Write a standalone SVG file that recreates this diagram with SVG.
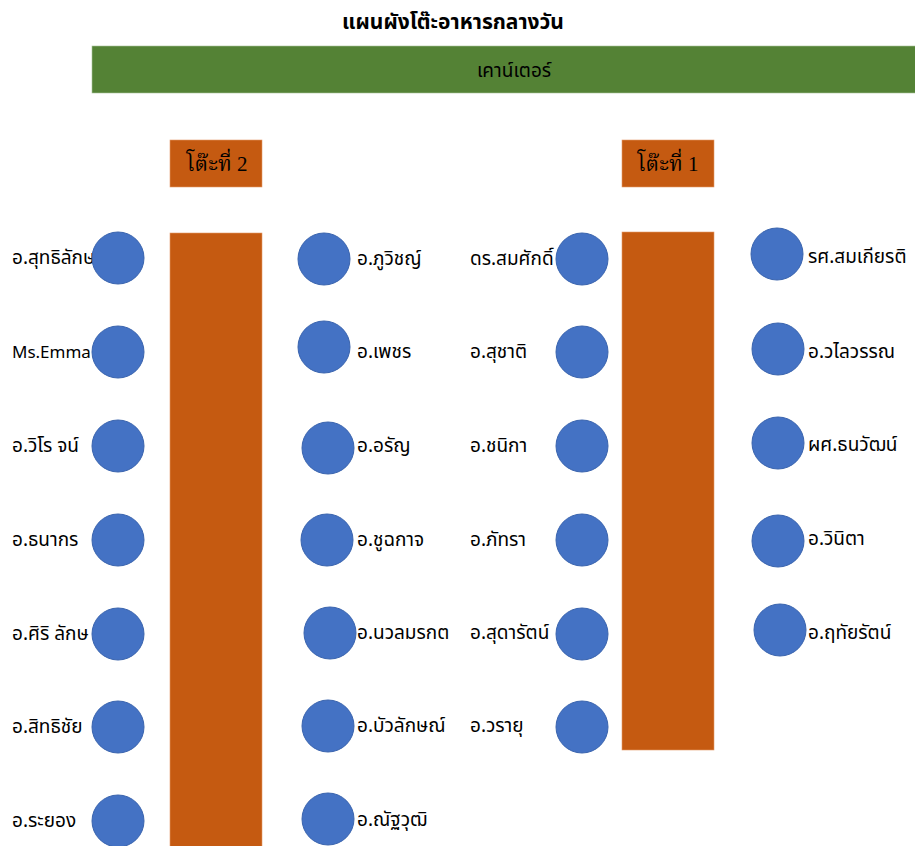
<svg xmlns="http://www.w3.org/2000/svg" width="915" height="846" viewBox="0 0 915 846">
<style>
.t{font-family:Tahoma,"Noto Sans Thai","Leelawadee UI","Liberation Sans","DejaVu Sans",sans-serif;font-size:19px;fill:#000}
.title{font-family:Tahoma,"Noto Sans Thai","Liberation Sans",sans-serif;font-size:21px;font-weight:bold;fill:#000}
.lbl{font-family:"Liberation Serif","Noto Serif Thai","Noto Sans Thai",serif;font-size:21px;fill:#000}
.seat{fill:#4472C4;stroke:#3A64AE;stroke-width:1}
.tbl{fill:#C55A11;stroke:#E59A6A;stroke-width:0.6}
.ctr{fill:#548235;stroke:#A9C49A;stroke-width:0.6}
</style>
<rect width="915" height="846" fill="#FFFFFF"/>
<g id="title"><text class="title" x="453" y="29" text-anchor="middle">แผนผังโต๊ะอาหารกลางวัน</text></g>
<g id="counter"><rect class="ctr" x="92" y="46" width="825" height="47"/><text class="t" x="514" y="77" text-anchor="middle">เคาน์เตอร์</text></g>
<g id="table2-label"><rect class="tbl" x="170" y="140" width="92" height="47"/><text class="lbl" x="217" y="171" text-anchor="middle">โต๊ะที่ 2</text></g>
<g id="table1-label"><rect class="tbl" x="622" y="140" width="92" height="47"/><text class="lbl" x="668" y="171" text-anchor="middle">โต๊ะที่ 1</text></g>
<g id="table2"><rect class="tbl" x="170" y="233" width="92" height="615"/></g>
<g id="table1"><rect class="tbl" x="622" y="232" width="92" height="518"/></g>

<g id="seat-l1"><text class="t" x="12" y="264">อ.สุทธิลักษ</text><circle class="seat" cx="118" cy="258" r="26"/></g>
<g id="seat-l2"><text class="t" x="12" y="358" style="font-size:17px">Ms.Emma</text><circle class="seat" cx="118" cy="352" r="26"/></g>
<g id="seat-l3"><text class="t" x="12" y="452">อ.วิโร จน์</text><circle class="seat" cx="118" cy="446" r="26"/></g>
<g id="seat-l4"><text class="t" x="12" y="546">อ.ธนากร</text><circle class="seat" cx="118" cy="540" r="26"/></g>
<g id="seat-l5"><text class="t" x="12" y="640">อ.ศิริ ลักษ</text><circle class="seat" cx="118" cy="634" r="26"/></g>
<g id="seat-l6"><text class="t" x="12" y="733">อ.สิทธิชัย</text><circle class="seat" cx="118" cy="727" r="26"/></g>
<g id="seat-l7"><text class="t" x="12" y="827">อ.ระยอง</text><circle class="seat" cx="118" cy="821" r="26"/></g>

<g id="seat-m1"><circle class="seat" cx="324" cy="259" r="26"/><text class="t" x="357" y="265">อ.ภูวิชญ์</text></g>
<g id="seat-m2"><circle class="seat" cx="324" cy="347" r="26"/><text class="t" x="357" y="358">อ.เพชร</text></g>
<g id="seat-m3"><circle class="seat" cx="328" cy="448" r="26"/><text class="t" x="357" y="452">อ.อรัญ</text></g>
<g id="seat-m4"><circle class="seat" cx="327" cy="540" r="26"/><text class="t" x="357" y="546">อ.ชูฉกาจ</text></g>
<g id="seat-m5"><circle class="seat" cx="330" cy="633" r="26"/><text class="t" x="357" y="639">อ.นวลมรกต</text></g>
<g id="seat-m6"><circle class="seat" cx="328" cy="726" r="26"/><text class="t" x="357" y="732">อ.บัวลักษณ์</text></g>
<g id="seat-m7"><circle class="seat" cx="328" cy="819" r="26"/><text class="t" x="357" y="826">อ.ณัฐวุฒิ</text></g>

<g id="seat-r1"><text class="t" x="470" y="265">ดร.สมศักดิ์</text><circle class="seat" cx="582" cy="259" r="26"/></g>
<g id="seat-r2"><text class="t" x="470" y="358">อ.สุชาติ</text><circle class="seat" cx="582" cy="352" r="26"/></g>
<g id="seat-r3"><text class="t" x="470" y="452">อ.ชนิกา</text><circle class="seat" cx="582" cy="446" r="26"/></g>
<g id="seat-r4"><text class="t" x="470" y="546">อ.ภัทรา</text><circle class="seat" cx="582" cy="540" r="26"/></g>
<g id="seat-r5"><text class="t" x="470" y="639">อ.สุดารัตน์</text><circle class="seat" cx="582" cy="634" r="26"/></g>
<g id="seat-r6"><text class="t" x="470" y="732">อ.วรายุ</text><circle class="seat" cx="582" cy="727" r="26"/></g>

<g id="seat-e1"><circle class="seat" cx="777" cy="254" r="26"/><text class="t" x="808" y="263">รศ.สมเกียรติ</text></g>
<g id="seat-e2"><circle class="seat" cx="778" cy="349" r="26"/><text class="t" x="808" y="358">อ.วไลวรรณ</text></g>
<g id="seat-e3"><circle class="seat" cx="778" cy="443" r="26"/><text class="t" x="808" y="451">ผศ.ธนวัฒน์</text></g>
<g id="seat-e4"><circle class="seat" cx="778" cy="541" r="26"/><text class="t" x="808" y="545">อ.วินิตา</text></g>
<g id="seat-e5"><circle class="seat" cx="780" cy="630" r="26"/><text class="t" x="808" y="639">อ.ฤทัยรัตน์</text></g>
</svg>
